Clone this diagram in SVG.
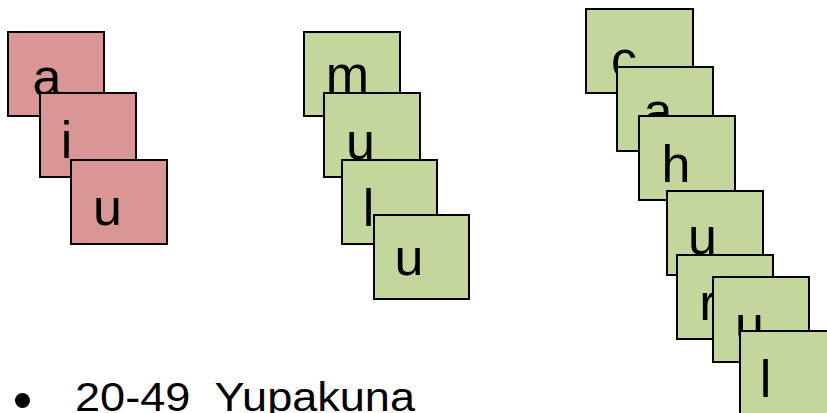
<svg xmlns="http://www.w3.org/2000/svg" width="827" height="413" viewBox="0 0 827 413">
<style>
.r{fill:#D99694;stroke:#000;stroke-width:2}
.g{fill:#C3D69B;stroke:#000;stroke-width:2}
.t{font-family:"Liberation Sans",Arial,sans-serif;font-size:52px;fill:#000;text-anchor:middle}
.b{font-family:"Liberation Sans",Arial,sans-serif;font-size:41px;fill:#000}
</style>
<rect width="827" height="413" fill="#fff"/>
<g id="red-a"><rect class="r" x="8" y="32" width="96" height="84"/><text class="t" x="47" y="95">a</text></g>
<g id="red-i"><rect class="r" x="40" y="93" width="96" height="84"/><text class="t" x="66.5" y="158">i</text></g>
<g id="red-u"><rect class="r" x="71" y="160" width="96" height="84"/><text class="t" x="107.5" y="225">u</text></g>

<g id="mid-m"><rect class="g" x="304" y="32" width="96" height="84"/><text class="t" x="347.5" y="92">m</text></g>
<g id="mid-u1"><rect class="g" x="324" y="93" width="96" height="84"/><text class="t" x="360.5" y="159">u</text></g>
<g id="mid-l"><rect class="g" x="342" y="160" width="95" height="84"/><text class="t" x="368.5" y="226">l</text></g>
<g id="mid-u2"><rect class="g" x="374" y="215" width="95" height="84"/><text class="t" x="409" y="275">u</text></g>

<g id="r-c"><rect class="g" x="586" y="9" width="107" height="84"/><text class="t" x="624" y="77">c</text></g>
<g id="r-a"><rect class="g" x="617" y="67" width="96" height="84"/><text class="t" x="658" y="129">a</text></g>
<g id="r-h"><rect class="g" x="639" y="116" width="96" height="84"/><text class="t" x="676" y="182">h</text></g>
<g id="r-u1"><rect class="g" x="667" y="191" width="96" height="84"/><text class="t" x="702.5" y="254">u</text></g>
<g id="r-r"><rect class="g" x="677" y="255" width="96" height="84"/><text class="t" x="708" y="320">r</text></g>
<g id="r-u2"><rect class="g" x="713" y="277" width="96" height="85"/><text class="t" x="749.5" y="342">u</text></g>
<g id="r-l"><rect class="g" x="740" y="331" width="96" height="84"/><text class="t" x="765.5" y="397">l</text></g>

<g id="bullet-text">
<circle cx="22.5" cy="400.5" r="7.5" fill="#000"/>
<text class="b" x="75" y="411" textLength="340" lengthAdjust="spacingAndGlyphs" xml:space="preserve">20-49  Yupakuna</text>
</g>
</svg>
